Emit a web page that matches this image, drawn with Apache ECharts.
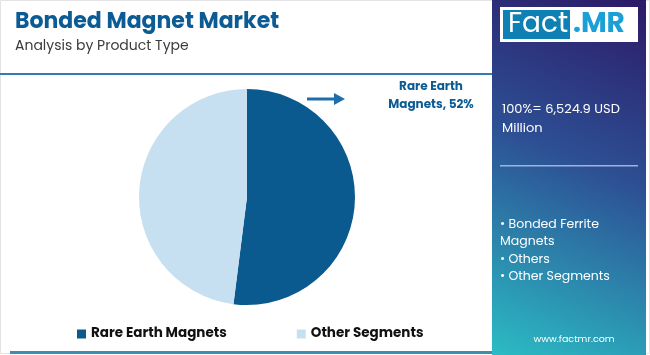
<!DOCTYPE html>
<html>
<head>
<meta charset="utf-8">
<script src="https://cdn.jsdelivr.net/npm/echarts@6/dist/echarts.min.js"></script>
<style>
  html, body { margin: 0; padding: 0; background: #fff; }
  #pie { width: 650px; height: 355px; }
</style>
</head>
<body>
<div id="pie"></div>
<script>
var myChart = echarts.init(document.getElementById('pie'));

// 数据
var segments = ['Rare Earth Magnets', 'Other Segments'];
var shares = [52, 48];
var colors = ['#0a5a8f', '#c6e0f1'];
var totalText = ['100%= 6,524.9 USD', 'Million'];
var otherList = ['• Bonded Ferrite', 'Magnets', '• Others', '• Other Segments'];

var font = 'Poppins, Inter, "Open Sans", sans-serif';

var pieData = [];
for (var i = 0; i < segments.length; ++i) {
    pieData.push({
        name: segments[i],
        value: shares[i],
        itemStyle: { color: colors[i] }
    });
}

// 右侧面板
var panel = [
    {
        type: 'rect',
        shape: { x: 492, y: 0, width: 154, height: 355 },
        style: {
            fill: new echarts.graphic.LinearGradient(1, 0, 0, 1, [
                { offset: 0, color: '#2c1a66' },
                { offset: 0.45, color: '#2d4f94' },
                { offset: 1, color: '#2bbcc4' }
            ])
        },
        z: 1
    },
    {
        type: 'rect',
        shape: { x: 500, y: 7, width: 138, height: 35 },
        style: { fill: '#ffffff' },
        z: 2
    },
    {
        type: 'rect',
        shape: { x: 503, y: 10, width: 67, height: 29 },
        style: { fill: '#0e80b3' },
        z: 3
    },
    {
        type: 'text',
        x: 508, y: 11,
        style: { text: 'Fact', fill: '#ffffff', font: '28px ' + font },
        z: 4
    },
    {
        type: 'text',
        x: 573, y: 11,
        style: { text: '.MR', fill: '#1a9fd6', font: 'bold 28px ' + font },
        z: 4
    },
    {
        type: 'text',
        x: 502, y: 100,
        style: { text: totalText.join('\n'), fill: '#ffffff', font: '13px ' + font, lineHeight: 19 },
        z: 4
    },
    {
        type: 'rect',
        shape: { x: 500, y: 165, width: 138, height: 1.5 },
        style: { fill: '#9fb4d6' },
        z: 4
    },
    {
        type: 'text',
        x: 500, y: 216,
        style: { text: otherList.join('\n'), fill: '#ffffff', font: '12.5px ' + font, lineHeight: 17.5 },
        z: 4
    },
    {
        type: 'text',
        x: 574, y: 340,
        style: { text: 'www.factmr.com', fill: '#ffffff', font: '9.5px ' + font, align: 'center', verticalAlign: 'middle' },
        z: 4
    }
];

var decor = [
    {
        type: 'rect',
        shape: { x: 0.5, y: 0.5, width: 649, height: 353 },
        style: { fill: 'none', stroke: '#e3e3e3', lineWidth: 1 },
        z: 0
    },
    {
        type: 'rect',
        shape: { x: 0, y: 73, width: 492, height: 2 },
        style: { fill: '#2f7db5' },
        z: 1
    },
    {
        type: 'rect',
        shape: { x: 10, y: 351, width: 482, height: 3 },
        style: { fill: '#3b8eae' },
        z: 1
    },
    {
        type: 'line',
        shape: { x1: 307, y1: 99, x2: 336, y2: 99 },
        style: { stroke: '#1d6ead', lineWidth: 3 },
        z: 2
    },
    {
        type: 'polygon',
        shape: { points: [[334, 93], [345, 99], [334, 105]] },
        style: { fill: '#1d6ead' },
        z: 2
    },
    {
        type: 'text',
        x: 431, y: 96,
        style: {
            text: 'Rare Earth\n' + 'Magnets, ' + shares[0] + '%',
            fill: '#0b5b94',
            font: 'bold 12px ' + font,
            align: 'center',
            verticalAlign: 'middle',
            lineHeight: 18
        },
        z: 2
    }
];

myChart.setOption({
    animation: false,
    title: {
        text: 'Bonded Magnet Market',
        subtext: 'Analysis by Product Type',
        left: 10,
        top: 6,
        itemGap: 6,
        textStyle: { color: '#0b5b94', fontSize: 22, fontWeight: 'bold', fontFamily: font },
        subtextStyle: { color: '#3c3c3c', fontSize: 14, fontFamily: font }
    },
    legend: {
        data: segments,
        left: 72,
        top: 322,
        icon: 'rect',
        itemWidth: 9,
        itemHeight: 9,
        itemGap: 70,
        textStyle: { color: '#111', fontSize: 13.5, fontWeight: 'bold', fontFamily: font }
    },
    graphic: decor.concat(panel),
    series: [{
        name: 'Product Type',
        type: 'pie',
        center: [247, 197],
        radius: 108,
        startAngle: 90,
        clockwise: true,
        label: { show: false },
        labelLine: { show: false },
        emphasis: { disabled: true },
        data: pieData
    }]
});
</script>
</body>
</html>
